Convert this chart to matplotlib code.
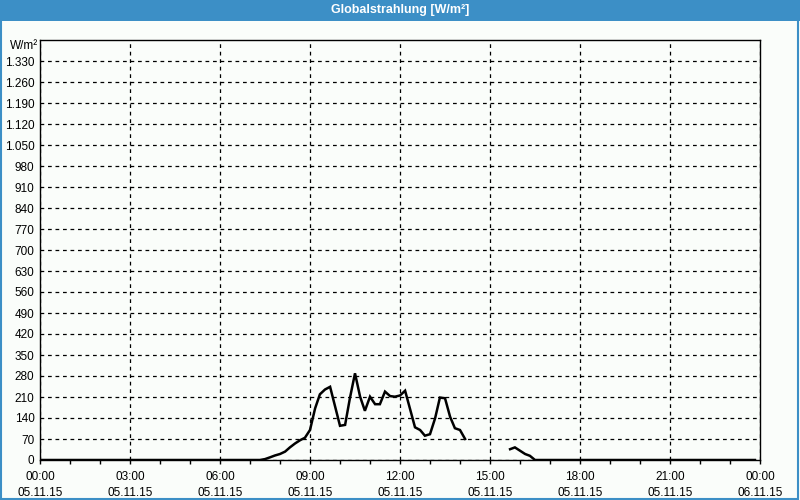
import numpy as np
import matplotlib.pyplot as plt
from matplotlib.patches import Rectangle

# Globalstrahlung 05.11.15, time in hours after midnight
hours = [0.0, 7.33, 7.5, 7.67, 7.83, 8.0, 8.17, 8.33, 8.5, 8.67, 8.83,
         9.0, 9.17, 9.33, 9.5, 9.67, 10.0, 10.17, 10.33, 10.5, 10.67,
         10.83, 11.0, 11.17, 11.33, 11.5, 11.67, 11.83, 12.0, 12.17,
         12.5, 12.67, 12.83, 13.0, 13.17, 13.33, 13.5, 13.67, 13.83,
         14.0, 14.17, 15.0, 15.67, 15.83, 16.0, 16.17, 16.33, 16.5, 23.83]
radiation = [0, 0, 3, 9, 15, 20, 28, 42, 55, 66, 74,
             100, 172, 219, 235, 244, 114, 117, 206, 289, 211,
             164, 211, 186, 186, 228, 213, 211, 215, 231,
             109, 100, 81, 86, 139, 208, 206, 144, 106,
             100, 70, np.nan, 36, 42, 31, 20, 14, 0, 0]

x_ticks = [0, 3, 6, 9, 12, 15, 18, 21, 24]
x_labels = ["00:00\n05.11.15", "03:00\n05.11.15", "06:00\n05.11.15",
            "09:00\n05.11.15", "12:00\n05.11.15", "15:00\n05.11.15",
            "18:00\n05.11.15", "21:00\n05.11.15", "00:00\n06.11.15"]
y_ticks = list(range(0, 1400, 70))
y_labels = [f"{v:,}".replace(",", ".") for v in y_ticks]

plt.rcParams['font.family'] = ['Liberation Sans', 'DejaVu Sans']
bg = '#fafdfa'
blue = '#3c8fc6'

fig = plt.figure(figsize=(8, 5), dpi=100, facecolor=bg)

# title bar and outer border
fig.patches.append(Rectangle((0, 1 - 21 / 500), 1, 21 / 500, transform=fig.transFigure,
                             facecolor=blue, edgecolor='none', zorder=0))
fig.patches.append(Rectangle((0.5 / 800, 1 / 500), 1 - 2.5 / 800, 1 - 1.5 / 500,
                             transform=fig.transFigure, facecolor='none',
                             edgecolor=blue, linewidth=1.5, zorder=1))
fig.text(0.5, 1 - 10.5 / 500, "Globalstrahlung [W/m²]", color='white',
         fontsize=9, fontweight='bold', ha='center', va='center')

ax = fig.add_axes([40 / 800, 40 / 500, 720 / 800, 420 / 500])
ax.set_facecolor(bg)
ax.plot(hours, radiation, color='black', linewidth=1.8, solid_joinstyle='miter')

ax.set_xlim(0, 24)
ax.set_ylim(0, 1400)
ax.set_xticks(x_ticks)
ax.set_xticklabels(x_labels, fontsize=8.5, linespacing=1.45)
ax.set_xticks(range(25), minor=True)
ax.set_yticks(y_ticks)
ax.set_yticklabels(y_labels, fontsize=8.5)
ax.tick_params(axis='x', which='both', length=3, width=1, direction='out', pad=5)
ax.tick_params(axis='y', length=0, pad=4)
ax.grid(True, which='major', color='black', linestyle=(0, (3, 3)), linewidth=0.9)
for s in ax.spines.values():
    s.set_linewidth(1)

fig.text(10 / 800, 1 - 46 / 500, "W/m²", fontsize=8.5, ha='left', va='center')

fig.savefig("out.png", dpi=100, facecolor=bg)
